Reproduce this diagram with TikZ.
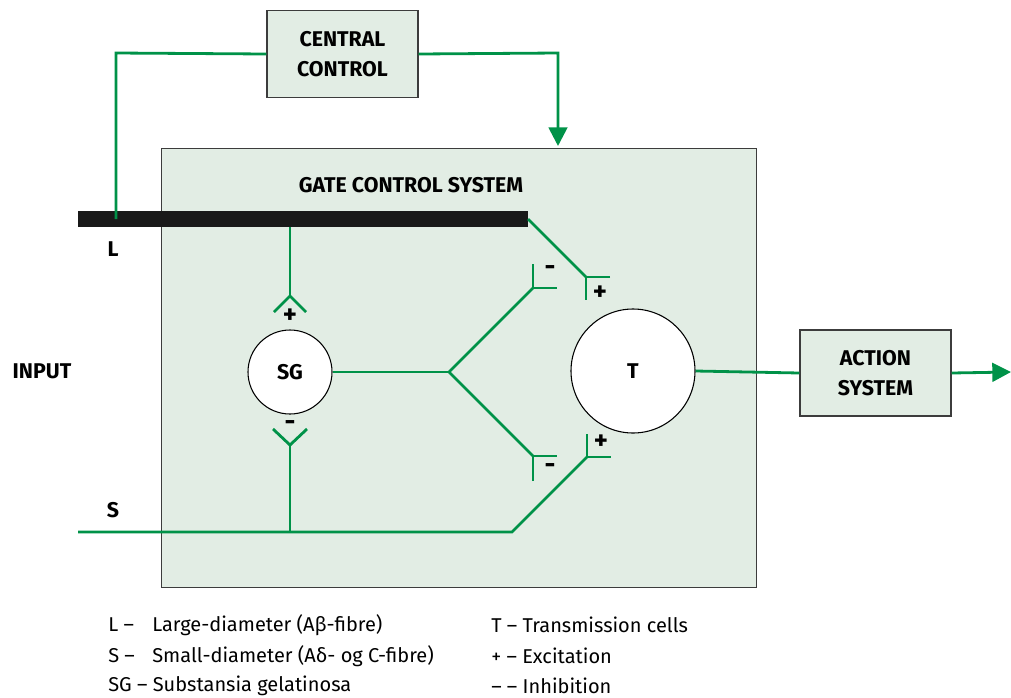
\documentclass[tikz,border=0pt]{standalone}
\usepackage{fontspec}
\setmainfont{Fira Sans}
\usetikzlibrary{arrows.meta}
\definecolor{fibre}{RGB}{0,146,72}
\definecolor{panel}{RGB}{226,237,228}
\definecolor{edge}{RGB}{60,60,60}
\tikzset{
  px/.style={x=0.75pt,y=-0.75pt},
  fib/.style={draw=fibre,line width=2.1pt},
  box/.style={draw=edge,fill=panel,line width=0.9pt,align=center,font=\fontsize{16}{19}\selectfont\bfseries,inner sep=0pt},
  cell/.style={circle,draw=black,fill=white,line width=0.8pt,font=\fontsize{16}{19}\selectfont\bfseries,inner sep=0pt},
  lbl/.style={font=\fontsize{16}{19}\selectfont\bfseries,inner sep=0pt},
  sgn/.style={font=\fontsize{20}{22}\selectfont\bfseries,inner sep=0pt},
  leg/.style={font=\fontsize{15}{18}\selectfont,anchor=west,inner sep=0pt},
  tip/.style={-{Triangle[width=14pt,length=14pt]}}
}
\begin{document}
\begin{tikzpicture}[px]
\useasboundingbox (0,0) rectangle (1011,697);
% gate control panel
\node[box,minimum width=595*0.75pt,minimum height=439*0.75pt,anchor=north west] (gate) at (161,148) {};
\node[lbl] (gatetitle) at (411,185) {GATE CONTROL SYSTEM};
% central control and action system
\node[box,minimum width=151*0.75pt,minimum height=87*0.75pt] (central) at (342.5,54) {CENTRAL\\[3pt]CONTROL};
\node[box,minimum width=151*0.75pt,minimum height=86*0.75pt] (action) at (875.5,373) {ACTION\\[3pt]SYSTEM};
% cells
\node[cell,minimum size=84*0.75pt] (sg) at (290,372) {SG};
\node[cell,minimum size=124*0.75pt] (t) at (633,371) {T};
% side labels
\node[lbl] (lL) at (113,249) {L};
\node[lbl] (lS) at (113,510) {S};
\node[lbl] (input) at (42,371) {INPUT};
% fibre junction points
\coordinate (lstart) at (78,219);
\coordinate (lend) at (528,219);
\coordinate (ctrlup) at (116,219);
\coordinate (ctrlcorner) at (116,53);
\coordinate (ctrlcorner2) at (558,53);
\coordinate (ctrltip) at (558,146);
\coordinate (lsg) at (290,227);
\coordinate (sgtop) at (290,296);
\coordinate (sgbot) at (290,445);
\coordinate (sjoin) at (290,532);
\coordinate (sstart) at (78,532);
\coordinate (sbend) at (512,532);
\coordinate (tsplus) at (587,457);
\coordinate (tlplus) at (586,277);
\coordinate (fork) at (449,372);
\coordinate (minusup) at (533,288);
\coordinate (minusdn) at (533,456);
\coordinate (out) at (1011,372);
% large fibre bar
\draw[line width=12pt,black!90] (lstart) -- (lend);
% central control loop
\draw[fib] (ctrlup) -- (ctrlcorner) -- (central.west);
\draw[fib,tip] (central.east) -- (ctrlcorner2) -- (ctrltip);
% L to SG (excitatory)
\draw[fib] (lsg) -- (sgtop);
\draw[fib] (274,312) -- (sgtop) -- (306,312);
\node[sgn] (sgplus) at (290,316) {+};
% S to SG (inhibitory)
\draw[fib] (sjoin) -- (sgbot);
\draw[fib] (273,429) -- (sgbot) -- (307,429);
\node[sgn] (sgminus) at (290,426) {-};
% S fibre to T (excitatory)
\draw[fib] (sstart) -- (sbend) -- (tsplus);
\draw[fib] (587,434) -- (tsplus) -- (611,457);
\node[sgn] (tsplussign) at (601,442) {+};
% L fibre to T (excitatory)
\draw[fib] (lend) -- (tlplus);
\draw[fib] (610,277) -- (tlplus) -- (586,300);
\node[sgn] (tlplussign) at (600,293) {+};
% SG to T (inhibitory)
\draw[fib] (sg.east) -- (fork);
\draw[fib] (fork) -- (minusup);
\draw[fib] (533,264) -- (minusup) -- (557,288);
\node[sgn] (upminus) at (550,271) {-};
\draw[fib] (fork) -- (minusdn);
\draw[fib] (533,481) -- (minusdn) -- (557,456);
\node[sgn] (dnminus) at (550,469) {-};
% T to action system and output
\draw[fib] (t.east) -- (action.west);
\draw[fib,tip] (action.east) -- (out);
% legend
\node[leg] (k1) at (108,625) {L –};
\node[leg] (k1t) at (152,625) {Large-diameter (Aβ-fibre)};
\node[leg] (k2) at (108,656) {S –};
\node[leg] (k2t) at (152,656) {Small-diameter (Aδ- og C-fibre)};
\node[leg] (k3) at (108,686) {SG – Substansia gelatinosa};
\node[leg] (k4) at (491,625) {T – Transmission cells};
\node[leg] (k5) at (491,656) {+ – Excitation};
\node[leg] (k6) at (491,686) {– – Inhibition};
\end{tikzpicture}
\end{document}
